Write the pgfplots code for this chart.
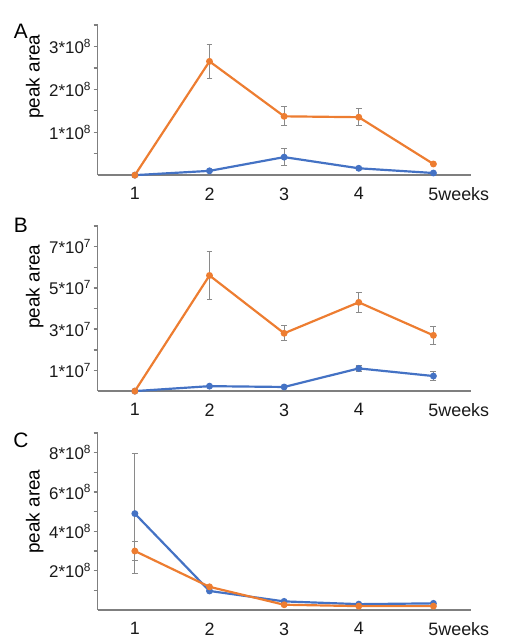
\documentclass[border=0pt]{standalone}
\usepackage{fontspec}
\setmainfont{Liberation Sans}
\usepackage{pgfplots}
\pgfplotsset{compat=1.18}

\definecolor{org}{HTML}{ED7D31}
\definecolor{blu}{HTML}{4472C4}
\definecolor{axgray}{HTML}{7F7F7F}
\definecolor{errgray}{HTML}{8A8A8A}

\pgfplotsset{
  panel/.style={
    scale only axis, width=375pt, xmin=0.5, xmax=5.5, ymin=0,
    anchor=south west, clip=false,
    axis lines=left,
    axis line style={axgray, line width=1.6pt, -},
    xtick={1,2,3,4,5},
    xticklabels={1,2,3,4,5\rlap{weeks}},
    xticklabel style={font=\fontsize{18}{20}\selectfont, yshift=-5pt, text=black!90},
    yticklabel style={font=\fontsize{17}{19}\selectfont, xshift=1pt, text=black!90},
    scaled y ticks=false,
    xtick pos=bottom, ytick pos=left,
    tick align=outside,
    major tick length=4pt, minor tick length=4pt,
    major tick style={draw=none},
    minor tick style={draw=axgray, line width=1.4pt},
  },
  ser/.style={color=#1, line width=2.2pt, mark=*, mark size=2.3pt,
    mark options={solid, fill=#1, draw=#1},
    error bars/.cd, y dir=both, y explicit,
    error bar style={errgray, line width=0.9pt},
    error mark options={errgray, line width=0.9pt, mark size=3pt, rotate=90}},
}

\begin{document}
\begin{tikzpicture}[x=1pt,y=1pt]
\path (0,0) rectangle (510,639);

% ---------------- Panel A ----------------
\begin{axis}[panel, at={(98pt,463pt)}, height=151pt, ymax=3.5e8,
  ytick={1e8,2e8,3e8},
  yticklabels={1*10\textsuperscript{8},2*10\textsuperscript{8},3*10\textsuperscript{8}},
  minor ytick={0.5e8,1e8,1.5e8,2e8,2.5e8,3e8,3.5e8}]
\addplot[ser=blu] coordinates {
  (1,0) +- (0,0)
  (2,0.10e8) +- (0,0.02e8)
  (3,0.42e8) +- (0,0.20e8)
  (4,0.16e8) +- (0,0.02e8)
  (5,0.05e8) +- (0,0.01e8)
};
\addplot[ser=org] coordinates {
  (1,0) +- (0,0)
  (2,2.65e8) +- (0,0.40e8)
  (3,1.37e8) +- (0,0.22e8)
  (4,1.35e8) +- (0,0.20e8)
  (5,0.26e8) +- (0,0.01e8)
};
\end{axis}

% ---------------- Panel B ----------------
\begin{axis}[panel, at={(98pt,246pt)}, height=166pt, ymax=8e7,
  ytick={1e7,3e7,5e7,7e7},
  yticklabels={1*10\textsuperscript{7},3*10\textsuperscript{7},5*10\textsuperscript{7},7*10\textsuperscript{7}},
  minor ytick={1e7,2e7,3e7,4e7,5e7,6e7,7e7,8e7}]
\addplot[ser=blu] coordinates {
  (1,0) +- (0,0)
  (2,0.24e7) +- (0,0.03e7)
  (3,0.20e7) +- (0,0.03e7)
  (4,1.10e7) +- (0,0.15e7)
  (5,0.73e7) +- (0,0.20e7)
};
\addplot[ser=org] coordinates {
  (1,0) +- (0,0)
  (2,5.6e7) +- (0,1.15e7)
  (3,2.8e7) +- (0,0.36e7)
  (4,4.3e7) +- (0,0.50e7)
  (5,2.7e7) +- (0,0.45e7)
};
\end{axis}

% ---------------- Panel C ----------------
\begin{axis}[panel, at={(98pt,26pt)}, height=178pt, ymax=9e8,
  ytick={2e8,4e8,6e8,8e8},
  yticklabels={2*10\textsuperscript{8},4*10\textsuperscript{8},6*10\textsuperscript{8},8*10\textsuperscript{8}},
  minor ytick={1e8,2e8,3e8,4e8,5e8,6e8,7e8,8e8,9e8}]
\addplot[ser=blu] coordinates {
  (1,4.9e8) +- (0,3.05e8)
  (2,0.97e8) +- (0,0.05e8)
  (3,0.44e8) +- (0,0.03e8)
  (4,0.30e8) +- (0,0.02e8)
  (5,0.34e8) +- (0,0.02e8)
};
\addplot[ser=org] coordinates {
  (1,3.0e8) +- (0,0.5e8)
  (2,1.18e8) +- (0,0.05e8)
  (3,0.27e8) +- (0,0.02e8)
  (4,0.20e8) +- (0,0.02e8)
  (5,0.20e8) +- (0,0.02e8)
};
\end{axis}

% panel letters and axis titles
\node[font=\fontsize{21}{24}\selectfont] at (21,608) {A};
\node[font=\fontsize{21}{24}\selectfont] at (21,413) {B};
\node[font=\fontsize{21}{24}\selectfont] at (21,197) {C};
\node[rotate=90, font=\fontsize{19}{21}\selectfont] at (35,562) {peak area};
\node[rotate=90, font=\fontsize{19}{21}\selectfont] at (35,351) {peak area};
\node[rotate=90, font=\fontsize{19}{21}\selectfont] at (35,125) {peak area};
\end{tikzpicture}
\end{document}
